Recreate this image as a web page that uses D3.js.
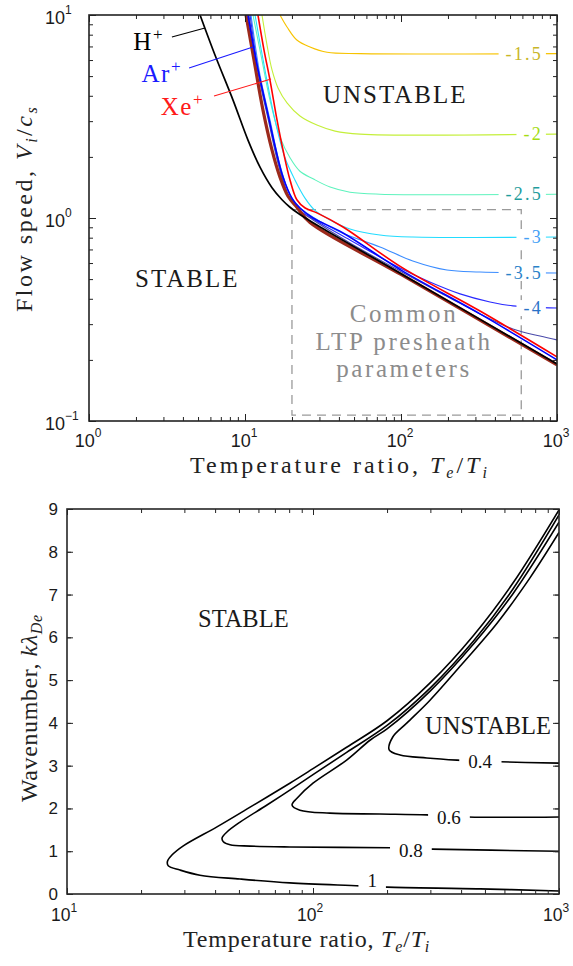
<!DOCTYPE html>
<html><head><meta charset="utf-8">
<script src="https://cdn.jsdelivr.net/npm/d3@7"></script>
<style>body{margin:0;background:#fff} svg{display:block}</style>
</head><body>
<svg id="c" width="573" height="966"></svg>
<script>
// ---------------- DATA: top panel (T_e/T_i, V_i/c_s) ----------------
const hPlus   = [[5.15,10],[6.42,6.35],[8.38,3.81],[10.45,2.42],[12.48,1.78],[14.9,1.41],[17.27,1.23],[19.43,1.13],[22.5,1.04],[30.3,0.903],[100,0.532],[1000,0.191]];
const brownEdge = [[10.15,10],[11.42,6.0],[13.04,3.40],[14.9,2.16],[16.76,1.59],[18.87,1.28],[21.5,1.13],[26.1,0.95],[100,0.527],[1000,0.189]];
const arPlus  = [[10.45,10],[11.77,6.0],[13.84,3.40],[15.8,2.16],[17.53,1.59],[20.0,1.25],[22.5,1.12],[27.3,1.0],[42.5,0.844],[100,0.554],[321,0.337],[1000,0.2]];
const xePlus  = [[12.11,10],[13.24,6.72],[14.46,4.78],[16.04,3.04],[17.53,2.16],[19.43,1.54],[21.5,1.23],[24.3,1.12],[28.9,1.06],[42.5,0.903],[100,0.574],[321,0.348],[1000,0.207]];

const contourM15 = [[16.76,10],[18.59,8.73],[21.5,7.53],[26.1,6.96],[33.6,6.55],[54.6,6.45],[1000,6.45]];
const contourM20 = [[12.85,10],[13.84,7.11],[14.9,5.36],[16.28,4.37],[18.59,3.69],[22.5,3.18],[28.9,2.87],[37.8,2.68],[54.6,2.59],[1000,2.59]];
const contourM25 = [[11.25,10],[12.85,6.0],[14.46,3.81],[16.76,2.51],[19.43,1.98],[22.5,1.70],[27.3,1.56],[35.1,1.42],[47.1,1.34],[73.3,1.31],[1000,1.31]];
const contourM30 = [[11.59,10],[13.43,5.36],[15.57,3.04],[18.05,1.98],[20.9,1.54],[24.3,1.25],[28.1,1.09],[35.1,0.978],[47.1,0.883],[73.3,0.825],[119,0.806],[1000,0.806]];
const contourM35 = [[10.93,10],[12.48,5.06],[14.46,3.04],[16.76,1.82],[19.43,1.30],[22.5,1.12],[27.3,1.01],[40.6,0.853],[73.3,0.720],[119,0.614],[197,0.554],[321,0.542],[1000,0.536]];
const contourM40 = [[10.77,10],[12.3,5.06],[14.25,3.04],[16.52,1.82],[19.15,1.28],[22.5,1.09],[27.3,0.989],[47.1,0.779],[98.5,0.567],[153,0.484],[239,0.423],[372,0.386],[522,0.369],[1000,0.360]];
const contourM45 = [[10.6,10],[12.2,5.06],[14.1,3.04],[16.4,1.82],[19.0,1.28],[22.3,1.09],[27.3,0.978],[47.1,0.753],[98.5,0.548],[206,0.404],[321,0.337],[522,0.284],[778,0.262],[1000,0.251]];
const topContours = [contourM15, contourM20, contourM25, contourM30, contourM35, contourM40, contourM45];
const topLevelLabels = ["-1.5","-2","-2.5","-3","-3.5","-4",""];
const presheathBox = {T:[20,590], V:[0.107,1.1]};

const xTicksTop = [1,10,100,1000];
const yTicksTop = [0.1,1,10];
const xTickExpTop = ["0","1","2","3"];
const yTickExpTop = ["\u22121","0","1"];

// ---------------- DATA: bottom panel (T_e/T_i, k lambda_De) ----------------
const curve10 = [[1000,0.07],[478,0.12],[200,0.16],[155,0.19],[80.5,0.26],[50.5,0.35],[34.7,0.44],[28.8,0.56],[25.8,0.66],[25.6,0.76],[26.7,0.91],[29.6,1.12],[40.7,1.57],[55.5,2.03],[80.5,2.59],[100,2.93],[137,3.43],[200,4.05],[300,4.94],[450,6.05],[650,7.27],[1000,8.98]];
const curve08 = [[1000,1.0],[305,1.05],[206,1.08],[80.5,1.10],[55.5,1.12],[46.0,1.15],[43.2,1.22],[42.7,1.31],[44.7,1.45],[50.5,1.68],[65,2.08],[80.5,2.43],[100,2.79],[137,3.31],[200,3.94],[300,4.82],[450,5.92],[650,7.13],[1000,8.86]];
const curve06 = [[1000,1.80],[427,1.80],[290,1.85],[187,1.87],[117,1.89],[88.5,1.96],[82.2,2.08],[86.1,2.24],[100,2.59],[137,3.13],[171,3.6],[200,3.86],[300,4.75],[450,5.85],[650,7.02],[1000,8.69]];
const curve04 = [[1000,3.06],[575,3.09],[385,3.13],[290,3.18],[226,3.25],[204,3.37],[211,3.67],[241,4.0],[299,4.53],[407,5.4],[560,6.33],[762,7.39],[1000,8.45]];
const bottomCurves = [curve10, curve08, curve06, curve04];
const bottomLabels = ["1","0.8","0.6","0.4"];
const bottomLabelAt = [[174,0.32],[250,1.03],[357,1.80],[478,3.11]];
const xTicksBot = [10,100,1000];
const xTickExpBot = ["1","2","3"];
const yTicksBot = [0,1,2,3,4,5,6,7,8,9];

// ---------------- DRAWING ----------------
const serif = "'Liberation Serif','Times New Roman',serif";
const sans = "'Liberation Sans',Arial,Helvetica,sans-serif";
const svg = d3.select('#c');
const defs = svg.append('defs');

const x1 = d3.scaleLog().domain([1,1000]).range([89,557]);
const y1 = d3.scaleLog().domain([0.1,10]).range([421,15]);
const x2 = d3.scaleLog().domain([10,1000]).range([67,559]);
const y2 = d3.scaleLinear().domain([0,9]).range([894,509]);

function clip(id,x,y){
  defs.append('clipPath').attr('id',id).append('rect')
    .attr('x',x.range()[0]).attr('y',y.range()[1])
    .attr('width',x.range()[1]-x.range()[0]).attr('height',y.range()[0]-y.range()[1]);
}
clip('clipA',x1,y1); clip('clipB',x2,y2);

function axes(g,x,y,xMinor,xMajor,yMinor,yMajor,col,minorLen,majorLen){
  const [x0,xe]=x.range(), [yb,yt]=y.range();
  const add=(axis,tr,vals,len)=>{
    g.append('g').attr('transform',tr).attr('color',col)
     .call(axis.tickValues(vals).tickSize(-len).tickFormat(''))
     .call(s=>s.select('.domain').remove())
     .call(s=>s.selectAll('line').attr('stroke-width',1));
  };
  add(d3.axisBottom(x),`translate(0,${yb})`,xMinor,minorLen);
  add(d3.axisBottom(x),`translate(0,${yb})`,xMajor,majorLen);
  add(d3.axisTop(x),`translate(0,${yt})`,xMinor,minorLen);
  add(d3.axisTop(x),`translate(0,${yt})`,xMajor,majorLen);
  add(d3.axisLeft(y),`translate(${x0},0)`,yMinor,minorLen);
  add(d3.axisLeft(y),`translate(${x0},0)`,yMajor,majorLen);
  add(d3.axisRight(y),`translate(${xe},0)`,yMinor,minorLen);
  add(d3.axisRight(y),`translate(${xe},0)`,yMajor,majorLen);
  g.append('rect').attr('x',x0).attr('y',yt).attr('width',xe-x0).attr('height',yb-yt)
   .attr('fill','none').attr('stroke',col).attr('stroke-width',1.6);
}

function pow10(g,x,y,exp,anchor,fs,sfs,supDy){
  const t=g.append('text').attr('x',x).attr('y',y).attr('text-anchor',anchor)
    .attr('font-family',sans).attr('font-size',fs).attr('fill','#1a1a1a');
  t.append('tspan').text('10');
  t.append('tspan').attr('dy',supDy).attr('font-size',sfs).text(exp);
  return t;
}

// ======== TOP PANEL ========
const gA = svg.append('g');
const plotA = gA.append('g').attr('clip-path','url(#clipA)');
const lineA = d3.line().x(d=>x1(d[0])).y(d=>y1(d[1])).curve(d3.curveCatmullRom.alpha(0.5));

plotA.append('rect')
  .attr('x',x1(presheathBox.T[0])).attr('y',y1(presheathBox.V[1]))
  .attr('width',x1(presheathBox.T[1])-x1(presheathBox.T[0]))
  .attr('height',y1(presheathBox.V[0])-y1(presheathBox.V[1]))
  .attr('fill','none').attr('stroke','#9a9a9a').attr('stroke-width',1.3).attr('stroke-dasharray','9,6');

const lineColors = ["#f7c300","#c4ef3a","#5ef3bd","#22dcff","#3a8cff","#2a2aff","#4a4aaa"];
const labelColors = ["#c8b628","#a4dc12","#1f9d9d","#45a0f5","#2a82c8","#2a72c8",null];

topContours.forEach((c,i)=>{
  plotA.append('path').attr('d',lineA(c)).attr('fill','none')
    .attr('stroke',lineColors[i]).attr('stroke-width',1.1);
});
plotA.append('path').attr('d',lineA(brownEdge)).attr('fill','none').attr('stroke','#9c2a1c').attr('stroke-width',3.2);
plotA.append('path').attr('d',lineA(xePlus)).attr('fill','none').attr('stroke','#ff0000').attr('stroke-width',1.6);
plotA.append('path').attr('d',lineA(arPlus)).attr('fill','none').attr('stroke','#0000ff').attr('stroke-width',1.6);
plotA.append('path').attr('d',lineA(hPlus)).attr('fill','none').attr('stroke','#000').attr('stroke-width',1.7);

topContours.forEach((c,i)=>{
  if(!topLevelLabels[i]) return;
  const v=c[c.length-1][1];
  const t=gA.append('text').attr('x',x1(812)).attr('y',y1(v)+6).attr('text-anchor','end')
    .attr('font-family',serif).attr('font-size',18).attr('letter-spacing',2.2)
    .attr('fill',labelColors[i]).text(topLevelLabels[i]);
  const b=t.node().getBBox();
  gA.insert('rect','text').attr('x',b.x-7).attr('y',y1(v)-8).attr('width',b.width+10).attr('height',16).attr('fill','#fff');
});

axes(gA,x1,y1,x1.ticks(),xTicksTop,y1.ticks(),yTicksTop,'#222',4,7);

xTicksTop.forEach((v,i)=>pow10(gA,x1(v)-1,447,xTickExpTop[i],'middle',18,12,-10));
yTicksTop.forEach((v,i)=>pow10(gA,45,y1(v)+8.5,yTickExpTop[i],'start',18,12,-10));

const xlA = gA.append('text').attr('x',190).attr('y',473).attr('font-family',serif)
  .attr('font-size',24).attr('letter-spacing',3).attr('fill','#222');
xlA.append('tspan').text('Temperature ratio, ');
xlA.append('tspan').attr('font-style','italic').text('T');
xlA.append('tspan').attr('font-style','italic').attr('font-size',16).attr('dy',5).text('e');
xlA.append('tspan').attr('dy',-5).text('/');
xlA.append('tspan').attr('font-style','italic').text('T');
xlA.append('tspan').attr('font-style','italic').attr('font-size',16).attr('dy',5).text('i');

const ylA = gA.append('text').attr('transform','translate(32,312) rotate(-90)').attr('font-family',serif)
  .attr('font-size',24).attr('letter-spacing',2.5).attr('fill','#222');
ylA.append('tspan').text('Flow speed, ');
ylA.append('tspan').attr('font-style','italic').text('V');
ylA.append('tspan').attr('font-style','italic').attr('font-size',16).attr('dy',5).text('i');
ylA.append('tspan').attr('dy',-5).text('/');
ylA.append('tspan').attr('font-style','italic').text('c');
ylA.append('tspan').attr('font-style','italic').attr('font-size',16).attr('dy',5).text('s');

gA.append('text').attr('x',323).attr('y',103).attr('font-family',serif).attr('font-size',25)
  .attr('letter-spacing',2).attr('fill','#1a1a1a').text('UNSTABLE');
gA.append('text').attr('x',135).attr('y',287).attr('font-family',serif).attr('font-size',25)
  .attr('letter-spacing',2).attr('fill','#1a1a1a').text('STABLE');
['Common','LTP presheath','parameters'].forEach((s,i)=>{
  gA.append('text').attr('x',404).attr('y',322+i*27.5).attr('text-anchor','middle')
    .attr('font-family',serif).attr('font-size',25).attr('letter-spacing',2.6)
    .attr('fill','#8c8c8c').text(s);
});

const ionNotes = [
  {name:'H',col:'#000',tx:164,ty:50,from:[3.40,7.79],to:[5.54,8.63]},
  {name:'Ar',col:'#1a1aff',tx:182,ty:82,from:[4.38,5.48],to:[11.25,6.95]},
  {name:'Xe',col:'#ff1a1a',tx:204,ty:115,from:[6.33,3.99],to:[14.68,4.84]}
];
ionNotes.forEach(n=>{
  gA.append('line').attr('x1',x1(n.from[0])).attr('y1',y1(n.from[1]))
    .attr('x2',x1(n.to[0])).attr('y2',y1(n.to[1])).attr('stroke',n.col).attr('stroke-width',1.1);
  const t=gA.append('text').attr('x',n.tx).attr('y',n.ty).attr('text-anchor','end')
    .attr('font-family',serif).attr('font-size',25).attr('letter-spacing',1.5).attr('fill',n.col);
  t.append('tspan').text(n.name);
  t.append('tspan').attr('dy',-10).attr('font-size',17).text('+');
});

// ======== BOTTOM PANEL ========
const gB = svg.append('g');
const plotB = gB.append('g').attr('clip-path','url(#clipB)');
const lineB = d3.line().x(d=>x2(d[0])).y(d=>y2(d[1])).curve(d3.curveCatmullRom.alpha(0.5));
bottomCurves.forEach(c=>{
  plotB.append('path').attr('d',lineB(c)).attr('fill','none').attr('stroke','#000').attr('stroke-width',1.6);
});
bottomLabels.forEach((s,i)=>{
  const p=bottomLabelAt[i];
  const t=gB.append('text').attr('x',x2(p[0])).attr('y',y2(p[1])+7).attr('text-anchor','middle')
    .attr('font-family',serif).attr('font-size',19).attr('fill','#111').text(s);
  const b=t.node().getBBox();
  gB.insert('rect','text').attr('x',b.x-9).attr('y',y2(p[1])-8).attr('width',b.width+18).attr('height',16).attr('fill','#fff');
});

axes(gB,x2,y2,x2.ticks(),xTicksBot,yTicksBot,yTicksBot,'#262626',4,6);

xTicksBot.forEach((v,i)=>pow10(gB,x2(v)-3,921,xTickExpBot[i],'middle',17.5,12,-9));
yTicksBot.forEach(v=>{
  gB.append('text').attr('x',58).attr('y',y2(v)+6).attr('text-anchor','end')
    .attr('font-family',sans).attr('font-size',17).attr('fill','#1a1a1a').text(v);
});

const xlB = gB.append('text').attr('x',183).attr('y',947).attr('font-family',serif)
  .attr('font-size',24).attr('letter-spacing',0.8).attr('fill','#222');
xlB.append('tspan').text('Temperature ratio, ');
xlB.append('tspan').attr('font-style','italic').text('T');
xlB.append('tspan').attr('font-style','italic').attr('font-size',16).attr('dy',5).text('e');
xlB.append('tspan').attr('dy',-5).text('/');
xlB.append('tspan').attr('font-style','italic').text('T');
xlB.append('tspan').attr('font-style','italic').attr('font-size',16).attr('dy',5).text('i');

const ylB = gB.append('text').attr('transform','translate(37,802) rotate(-90)').attr('font-family',serif)
  .attr('font-size',24).attr('letter-spacing',0.6).attr('fill','#222');
ylB.append('tspan').text('Wavenumber, ');
ylB.append('tspan').attr('font-style','italic').text('k\u03BB');
ylB.append('tspan').attr('font-style','italic').attr('font-size',16).attr('dy',5).text('De');

gB.append('text').attr('x',198).attr('y',627).attr('font-family',serif).attr('font-size',24.5)
  .attr('fill','#1a1a1a').text('STABLE');
gB.append('text').attr('x',425).attr('y',734).attr('font-family',serif).attr('font-size',24.5)
  .attr('fill','#1a1a1a').text('UNSTABLE');
</script>
</body></html>
